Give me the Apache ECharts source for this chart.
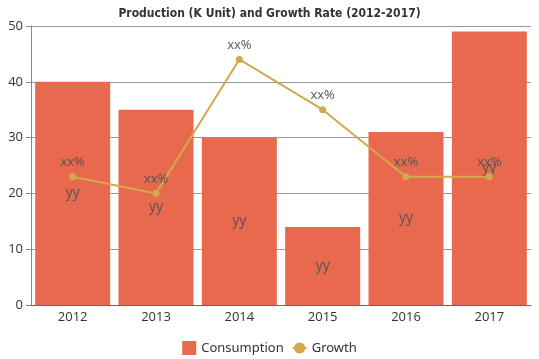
<!DOCTYPE html>
<html><head><meta charset="utf-8">
<script src="https://cdn.jsdelivr.net/npm/echarts@6/dist/echarts.min.js"></script>
<style>html,body{margin:0;padding:0;background:#fff}#c{width:539px;height:359px}</style>
</head><body><div id="c"></div>
<script>
var categories = ['2012','2013','2014','2015','2016','2017'];
var consumption = [40, 35, 30, 14, 31, 49];
var growth = [23, 20, 44, 35, 23, 23];
var yTicks = [0, 10, 20, 30, 40, 50];

var chart = echarts.init(document.getElementById('c'));
chart.setOption({
  animation: false,
  title: {
    text: 'Production (K Unit) and Growth Rate (2012-2017)',
    left: 'center', top: 3,
    textStyle: {fontFamily: 'DejaVu Sans Condensed', fontWeight: 'bold', fontSize: 12, color: '#333'}
  },
  legend: {
    bottom: -1, left: 'center', itemWidth: 14, itemHeight: 14, itemGap: 8,
    textStyle: {fontFamily: 'Noto Sans', fontSize: 13, color: '#333'},
    data: [{name: 'Consumption', icon: 'rect'}, {name: 'Growth'}]
  },
  grid: {left: 31, right: 8, top: 26, bottom: 54},
  xAxis: {
    type: 'category', data: categories,
    axisLine: {lineStyle: {color: '#666'}},
    axisTick: {show: false},
    axisLabel: {color: '#333', fontSize: 13, fontFamily: 'Open Sans', margin: 6}
  },
  yAxis: {
    type: 'value', min: yTicks[0], max: yTicks[yTicks.length-1], interval: 10,
    axisLine: {show: true, lineStyle: {color: '#888'}},
    axisTick: {show: true, lineStyle: {color: '#888'}},
    splitLine: {lineStyle: {color: '#999'}},
    axisLabel: {color: '#333', fontSize: 13, fontFamily: 'Open Sans', margin: 8}
  },
  series: [
    {
      name: 'Consumption', type: 'bar', data: consumption,
      barCategoryGap: '10%',
      itemStyle: {color: '#e8694e'},
      label: {show: true, position: 'inside', formatter: 'yy', color: '#555', fontSize: 14, fontFamily: 'Open Sans'}
    },
    {
      name: 'Growth', type: 'line', data: growth,
      symbol: 'circle', symbolSize: 7,
      itemStyle: {color: '#d2a94c'},
      lineStyle: {color: '#d2a94c', width: 2},
      label: {show: true, position: 'top', formatter: 'xx%', color: '#555', fontSize: 13, fontFamily: 'Open Sans', distance: 4}
    }
  ]
});
</script></body></html>
